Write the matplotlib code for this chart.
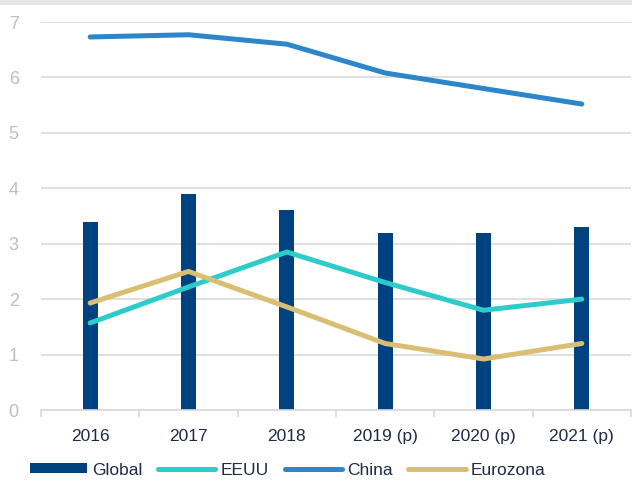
import matplotlib
matplotlib.use("Agg")
import matplotlib.pyplot as plt
import numpy as np
from matplotlib.patches import Rectangle

categories = ["2016", "2017", "2018", "2019 (p)", "2020 (p)", "2021 (p)"]
global_vals = [3.4, 3.9, 3.6, 3.2, 3.2, 3.3]
eeuu_vals = [1.57, 2.22, 2.85, 2.3, 1.8, 2.0]
china_vals = [6.73, 6.77, 6.6, 6.08, 5.8, 5.52]
eurozona_vals = [1.93, 2.5, 1.86, 1.2, 0.92, 1.2]

plt.rcParams['font.family'] = ['Liberation Sans', 'DejaVu Sans']

fig = plt.figure(figsize=(6.32, 4.86), dpi=100)
ax = fig.add_axes([41/632, 1 - 410/486, 590/632, 388/486])

fig.patches.append(Rectangle((0, 1 - 5/486), 1, 5/486, transform=fig.transFigure,
                             facecolor="#e6e6e6", edgecolor="none"))

x = np.arange(len(categories))
c_global = "#00417f"
c_eeuu = "#2ecbcb"
c_china = "#2c86c9"
c_euro = "#d8bf73"

hb = ax.bar(x, global_vals, width=0.155, color=c_global, label="Global", zorder=2)
he, = ax.plot(x, eeuu_vals, color=c_eeuu, lw=3.6, solid_capstyle="round", label="EEUU", zorder=3)
hc, = ax.plot(x, china_vals, color=c_china, lw=3.6, solid_capstyle="round", label="China", zorder=3)
hz, = ax.plot(x, eurozona_vals, color=c_euro, lw=3.6, solid_capstyle="round", label="Eurozona", zorder=3)

ax.set_xlim(-0.5, len(categories) - 0.5)
ax.set_ylim(0, 7)
ax.set_yticks(range(0, 8))
ax.yaxis.grid(True, color="#d9d9d9", lw=1.2, zorder=0)
ax.set_axisbelow(True)
for s in ["top", "right", "left"]:
    ax.spines[s].set_visible(False)
ax.spines["bottom"].set_color("#d9d9d9")
ax.spines["bottom"].set_linewidth(1.2)

ax.set_xticks(x)
ax.set_xticklabels(categories, fontsize=12.5, color="#1f2a44")
ax.set_xticks(np.arange(-0.5, len(categories)), minor=True)
ax.tick_params(axis="x", which="major", length=0, pad=14)
ax.tick_params(axis="x", which="minor", length=5, color="#d9d9d9", width=1.2)
ax.tick_params(axis="y", length=0, labelsize=13, labelcolor="#bfbfbf", pad=16)

leg = fig.legend([hb, he, hc, hz], ["Global", "EEUU", "China", "Eurozona"],
                 loc="center left", bbox_to_anchor=(0.036, 1 - 470/486),
                 ncol=4, frameon=False, fontsize=12.5, handlelength=3.3,
                 handleheight=0.5, handletextpad=0.3, columnspacing=0.9, borderaxespad=0)
for t in leg.get_texts():
    t.set_color("#1f2a44")

fig.savefig("out.png", dpi=100)
